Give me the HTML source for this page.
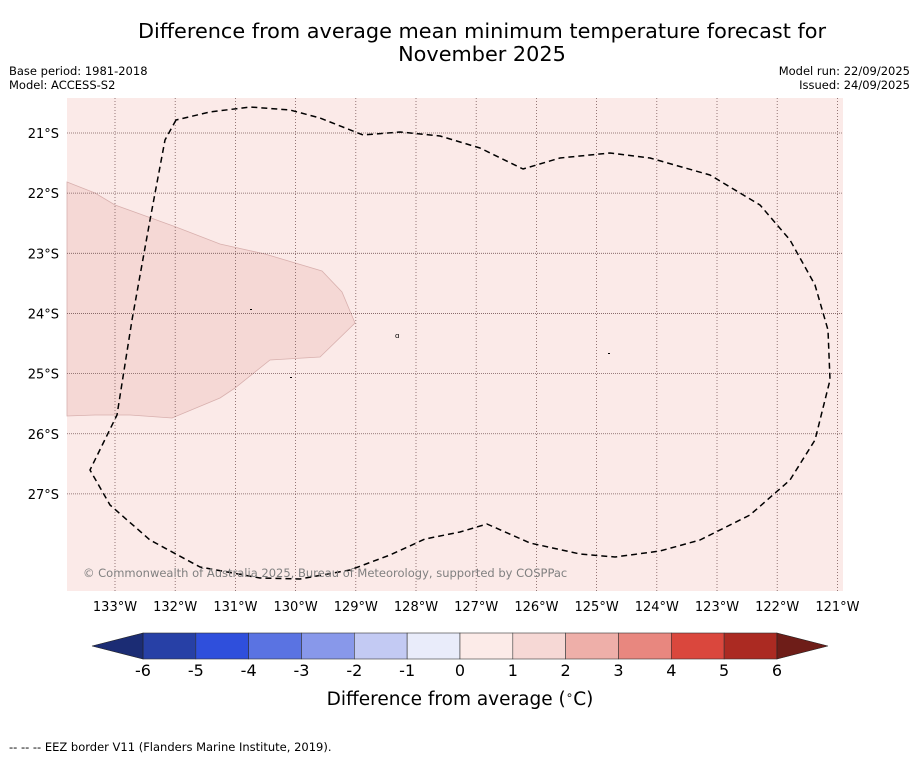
<!DOCTYPE html>
<html><head><meta charset="utf-8"><style>
body{margin:0;background:#fff;}
svg text{font-family:"DejaVu Sans","Liberation Sans",sans-serif;}
</style></head><body>
<svg id="chart" width="919" height="758" xmlns="http://www.w3.org/2000/svg">
<rect width="919" height="758" fill="#fff"/>
<text x="482" y="38" font-size="20.8" text-anchor="middle" fill="#000">Difference from average mean minimum temperature forecast for</text>
<text x="482" y="61" font-size="20.8" text-anchor="middle" fill="#000">November 2025</text>
<text x="9" y="75" font-size="11.5">Base period: 1981-2018</text>
<text x="9" y="89" font-size="11.5">Model: ACCESS-S2</text>
<text x="910" y="75" font-size="11.5" text-anchor="end">Model run: 22/09/2025</text>
<text x="910" y="89" font-size="11.5" text-anchor="end">Issued: 24/09/2025</text>
<g id="map">
<rect x="67" y="98" width="776" height="493" fill="#fbeae8"/>
<polygon points="67,182 95,193 115,205 176,227 220,244 265,254 322,271 342,292 355,323 320,357 270,360 235,388 220,398 172,418 130,415 95,415 67,416" fill="#f5d8d5" stroke="#d8b0ae" stroke-width="0.8"/>
<g id="grid"></g>
<path d="M176,120 L165,140 L150,220 L132,320 L117,415 L90,470 L110,505 L150,540 L200,567 L260,578 L300,579 L350,570 L390,555 L425,539 L460,532 L487,524 L530,543 L580,554 L615,557 L660,551 L700,540 L750,515 L790,480 L815,440 L830,380 L828,330 L815,285 L790,240 L760,205 L710,175 L650,158 L610,153 L560,158 L523,169 L480,148 L440,136 L400,132 L363,135 L320,118 L290,110 L250,107 L210,112 Z" fill="none" stroke="#000" stroke-width="1.5" stroke-dasharray="6,4" stroke-linejoin="round"/>
<text x="395" y="338" font-size="7">ɑ</text>
<rect x="250" y="309" width="2" height="1" fill="#000"/><rect x="290" y="377" width="2" height="1" fill="#000"/><rect x="608" y="353" width="2" height="1" fill="#000"/>
<text x="83" y="577" font-size="11.5" fill="#808080">© Commonwealth of Australia 2025, Bureau of Meteorology, supported by COSPPac</text>
</g>
<g id="axes"></g>
<g id="cbar"></g>
<text x="460" y="705" font-size="18.5" text-anchor="middle">Difference from average (<tspan font-size="12" dy="-6">∘</tspan><tspan dy="6">C)</tspan></text>
<text x="9" y="751" font-size="11.5">--  --  -- EEZ border V11 (Flanders Marine Institute, 2019).</text>
</svg>
<script>
const lonTicks=[-133,-132,-131,-130,-129,-128,-127,-126,-125,-124,-123,-122,-121];
const latTicks=[-21,-22,-23,-24,-25,-26,-27];
const cbarBounds=[-6,-5,-4,-3,-2,-1,0,1,2,3,4,5,6];
const cbarColors=["#2740a6","#2f4fdc","#5a73e2","#8898ea","#c3caf3","#e9ecfa","#fcebe8","#f6d8d5","#eeafa9","#e8877f","#da473d","#ab2a22"];
const extColors=["#1b2c74","#6e1d18"];
const NS="http://www.w3.org/2000/svg";
const lonX=l=>115+(l+133)*60.2;
const latY=l=>133+(-21-l)*60.15;
const cbX=v=>143+(v+6)*52.83;
function mk(t,a,p){const e=document.createElementNS(NS,t);for(const k in a)e.setAttribute(k,a[k]);p.appendChild(e);return e;}
const grid=document.getElementById('grid'),axes=document.getElementById('axes'),cb=document.getElementById('cbar');
lonTicks.forEach(l=>{const x=lonX(l);
 const ln=mk('line',{x1:x,x2:x,y1:98,y2:591,stroke:'#7a5a5a','stroke-width':0.8,'stroke-dasharray':'1,2'},grid);
 
 
 const t=mk('text',{x:x,y:611,'font-size':13,'text-anchor':'middle'},axes);
 
 
 t.textContent=Math.abs(l)+'°W';});
latTicks.forEach(l=>{const y=latY(l);
 const ln=mk('line',{x1:67,x2:843,y1:y,y2:y,stroke:'#7a5a5a','stroke-width':0.8,'stroke-dasharray':'1,1'},grid);
 
 
 const t=mk('text',{x:59,y:y+5,'font-size':13,'text-anchor':'end'},axes);
 
 
 t.textContent=Math.abs(l)+'°S';});
const y0=633,y1=659;
cbarColors.forEach((c,i)=>{const x0=cbX(cbarBounds[i]),x1=cbX(cbarBounds[i+1]);
 const r=mk('rect',{x:x0,y:y0,width:x1-x0,height:y1-y0,fill:c,stroke:'#333','stroke-width':0.6},cb);
 
 });
const l0=cbX(cbarBounds[0]),l1=cbX(cbarBounds[cbarBounds.length-1]);
const e1=mk('polygon',{points:`${l0},${y0} ${l0-51},${(y0+y1)/2} ${l0},${y1}`,fill:extColors[0],stroke:'#222','stroke-width':0.6},cb);


const e2=mk('polygon',{points:`${l1},${y0} ${l1+51},${(y0+y1)/2} ${l1},${y1}`,fill:extColors[1],stroke:'#222','stroke-width':0.6},cb);


cbarBounds.forEach(v=>{const t=mk('text',{x:cbX(v),y:676,'font-size':16,'text-anchor':'middle'},cb);
 
 
 t.textContent=v;});
</script>
</body></html>
